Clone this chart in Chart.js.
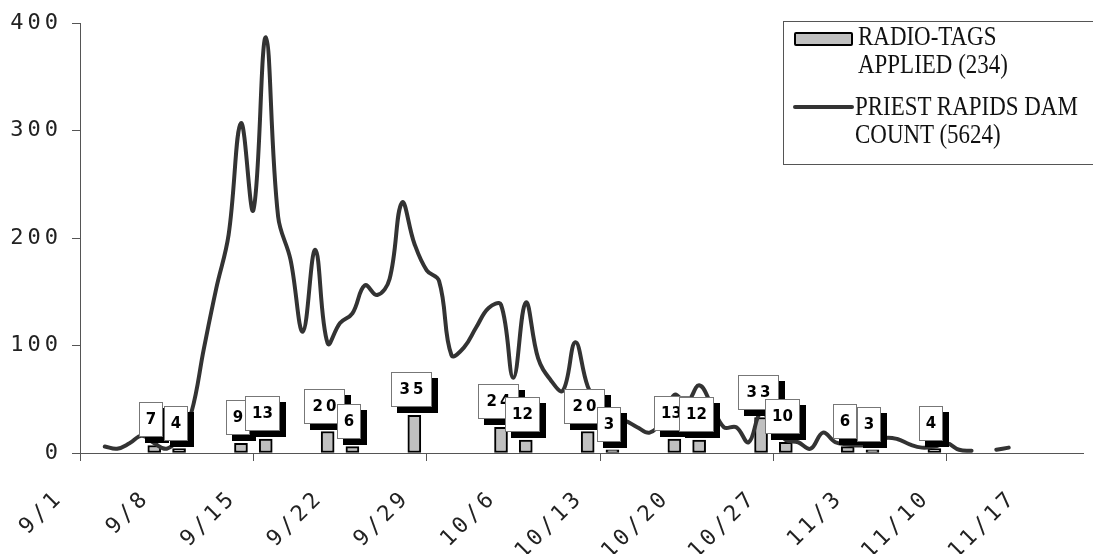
<!DOCTYPE html>
<html>
<head>
<meta charset="utf-8">
<title>Radio-tags applied and Priest Rapids Dam count</title>
<script src="https://cdn.jsdelivr.net/npm/chart.js@4.4.0/dist/chart.umd.min.js"></script>
<style>
  body { margin: 0; background: #fff; overflow: hidden; }
  #wrap { position: relative; width: 1093px; height: 554px; }
  #legend {
    position: absolute; left: 783px; top: 21px; width: 330px; height: 142px;
    border: 1px solid #555; background: #fff;
    font-family: "Liberation Serif", "Times New Roman", serif; color: #111;
  }
  #legend .txt {
    position: absolute; font-size: 28px; line-height: 28px; white-space: nowrap;
    transform: scaleX(0.82); transform-origin: left top;
  }
  #legend .bar-swatch {
    position: absolute; left: 10px; top: 10px; width: 55px; height: 10px;
    background: #c0c0c0; border: 2px solid #000; border-radius: 2px;
  }
  #legend .line-swatch {
    position: absolute; left: 9px; top: 83px; width: 61px; height: 4px;
    background: #333; border-radius: 2px;
  }
</style>
</head>
<body>
<div id="wrap">
  <canvas id="chart" width="1093" height="554"></canvas>
  <div id="legend">
    <div class="bar-swatch"></div>
    <div class="txt" id="tagsText" style="left:74px; top:0px;"></div>
    <div class="line-swatch"></div>
    <div class="txt" id="damText" style="left:71px; top:70px;"></div>
  </div>
</div>
<script>
// x values are days counted from 9/1
const weekLabels = ['9/1', '9/8', '9/15', '9/22', '9/29', '10/6', '10/13', '10/20', '10/27', '11/3', '11/10', '11/17'];
const weekTicks = [0, 7, 14, 21, 28, 35, 42, 49, 56, 63, 70, 77];
const yTicks = [0, 100, 200, 300, 400];

// daily fish count at Priest Rapids Dam (null = no count)
const damCount = [
  null, null, 6, 4, 9, 16, 9, 4, 14, 38,
  97, 153, 203, 307, 226, 387, 220, 180, 113, 189,
  102, 121, 130, 156, 147, 162, 233, 195, 170, 160,
  91, 98, 117, 135, 138, 70, 140, 88, 68, 58,
  103, 62, 42, 30, 30, 24, 19, 30, 54, 47,
  63, 45, 24, 24, 10, 38, 25, 12, 10, 4,
  19, 10, 8, 7, 8, 14, 13, 8, 5, 6,
  9, 3, 2, null, 3, 5
];

// radio-tagging days and number of tags applied
const tagDays = [6, 8, 13, 15, 20, 22, 27, 34, 36, 41, 43, 48, 50, 55, 57, 62, 64, 69];
const tagCounts = [7, 4, 9, 13, 20, 6, 35, 24, 12, 20, 3, 13, 12, 33, 10, 6, 3, 4];

const tagsLegend = ['RADIO-TAGS', 'APPLIED (' + tagCounts.reduce((a, b) => a + b, 0) + ')'];
const damLegend = ['PRIEST RAPIDS DAM', 'COUNT (5624)'];

document.getElementById('tagsText').innerHTML = tagsLegend.join('<br>');
document.getElementById('damText').innerHTML = damLegend.join('<br>');

const AXIS = '#555';
const TICK_FONT = { family: '"DejaVu Sans Mono", monospace', size: 22 };

// wide letter spacing on the axis numbers
const spacedTicks = {
  id: 'spacedTicks',
  beforeLayout(chart) { chart.ctx.letterSpacing = '4px'; },
  beforeDraw(chart) { chart.ctx.letterSpacing = '4px'; }
};

// white value boxes with a hard black drop shadow above each bar
const tagBoxes = {
  id: 'tagBoxes',
  afterDatasetsDraw(chart) {
    const ctx = chart.ctx;
    const meta = chart.getDatasetMeta(0);
    ctx.save();
    ctx.font = 'bold 15px "DejaVu Sans", Verdana, sans-serif';
    ctx.textAlign = 'center';
    ctx.textBaseline = 'middle';
    meta.data.forEach((bar, i) => {
      const text = String(tagCounts[i]);
      // the narrow "1" sits tight, other pairs are spread out
      ctx.letterSpacing = (text.length > 1 && text[0] !== '1') ? '3px' : '0px';
      const w = Math.round(ctx.measureText(text).width + 14);
      const h = 35;
      const cx = bar.x - 3;
      const left = Math.round(cx - w / 2);
      const top = Math.round(bar.y - 8 - h);
      ctx.fillStyle = '#000';
      ctx.fillRect(left + 6, top + 6, w, h);
      ctx.fillStyle = '#fff';
      ctx.fillRect(left, top, w, h);
      ctx.strokeStyle = '#777';
      ctx.lineWidth = 1;
      ctx.strokeRect(left + 0.5, top + 0.5, w - 1, h - 1);
      ctx.fillStyle = '#000';
      ctx.fillText(text, left + w / 2 + (ctx.letterSpacing === '3px' ? 1.5 : 0), top + h / 2 + 1);
    });
    ctx.restore();
  }
};

new Chart(document.getElementById('chart'), {
  type: 'bar',
  data: {
    datasets: [
      {
        type: 'bar',
        label: tagsLegend.join(' '),
        data: tagDays.map((d, i) => ({ x: d, y: tagCounts[i] })),
        backgroundColor: '#c0c0c0',
        borderColor: '#000',
        borderWidth: 2,
        borderSkipped: false,
        barThickness: 13,
        order: 2
      },
      {
        type: 'line',
        label: damLegend.join(' '),
        data: damCount.map((v, d) => ({ x: d, y: v })),
        borderColor: '#333',
        borderWidth: 4,
        borderCapStyle: 'round',
        borderJoinStyle: 'round',
        tension: 0.4,
        pointRadius: 0,
        spanGaps: false,
        order: 1
      }
    ]
  },
  options: {
    responsive: false,
    animation: false,
    devicePixelRatio: 1,
    layout: { padding: { left: 0, right: 10, top: 23, bottom: 0 } },
    plugins: { legend: { display: false }, tooltip: { enabled: false } },
    scales: {
      x: {
        type: 'linear',
        min: 0,
        max: 81,
        offset: false,
        afterBuildTicks: (scale) => { scale.ticks = weekTicks.map(v => ({ value: v })); },
        afterFit: (scale) => { scale.height = 101; },
        grid: {
          offset: false,
          drawOnChartArea: false,
          drawTicks: true,
          tickLength: 8,
          color: (c) => (c.tick && c.tick.value % 14 === 0) ? AXIS : 'rgba(0,0,0,0)'
        },
        border: { display: true, color: AXIS, width: 1 },
        ticks: {
          autoSkip: false,
          minRotation: 45,
          maxRotation: 45,
          padding: 24,
          labelOffset: -20,
          color: '#222',
          font: TICK_FONT,
          callback: (v) => weekLabels[weekTicks.indexOf(v)]
        }
      },
      y: {
        min: 0,
        max: 400,
        afterBuildTicks: (scale) => { scale.ticks = yTicks.map(v => ({ value: v })); },
        afterFit: (scale) => { scale.width = 80; },
        grid: { drawOnChartArea: false, drawTicks: true, tickLength: 8, color: AXIS },
        border: { display: true, color: AXIS, width: 1 },
        ticks: { padding: 10, color: '#222', font: TICK_FONT }
      }
    }
  },
  plugins: [spacedTicks, tagBoxes]
});
</script>
</body>
</html>
